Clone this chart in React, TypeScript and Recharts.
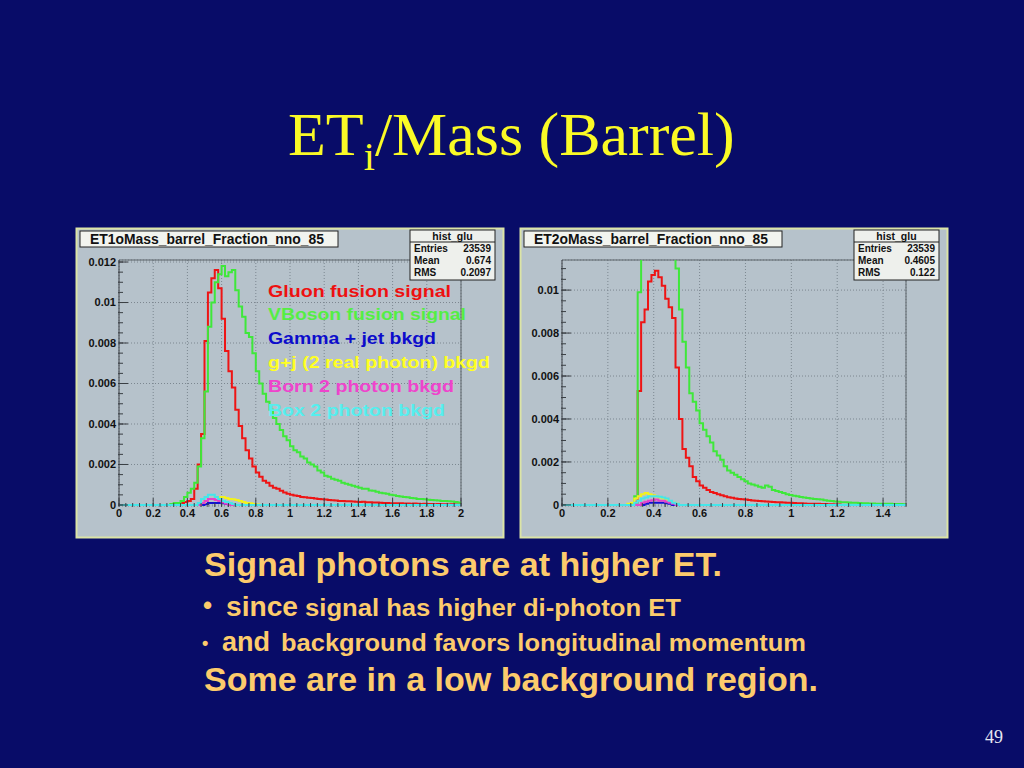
import React from "react";
import { LineChart, Line, XAxis, YAxis, CartesianGrid, ReferenceLine } from "recharts";

const BINS = 100;
const leftBinWidth = 0.02;
const rightBinWidth = 0.015;

const seriesKeys = ["glu", "vbf", "gjet", "gj2", "born", "box"];
const seriesColors = ["#ee1414", "#3ee83a", "#1212d2", "#f2f21c", "#e444cc", "#44e6ea"];
const legendLabels = [
  "Gluon fusion signal",
  "VBoson fusion signal",
  "Gamma + jet bkgd",
  "g+j (2 real photon) bkgd",
  "Born 2 photon bkgd",
  "Box 2 photon bkgd",
];
const legendColors = ["#ee1010", "#55ee44", "#0c0ccc", "#ffff22", "#ee44cc", "#55eeee"];

const leftXTicks = [0, 0.2, 0.4, 0.6, 0.8, 1, 1.2, 1.4, 1.6, 1.8, 2];
const leftYTicks = [0, 0.002, 0.004, 0.006, 0.008, 0.01, 0.012];
const rightXTicks = [0, 0.2, 0.4, 0.6, 0.8, 1, 1.2, 1.4];
const rightYTicks = [0, 0.002, 0.004, 0.006, 0.008, 0.01];

// ET1/Mass, bins of 0.02, each list starts at the bin given with it
const leftGluStart = 17;
const leftGlu = [
  0.00005, 0.0001, 0.00015, 0.0002, 0.0003, 0.0008, 0.002, 0.0035, 0.0081, 0.0105,
  0.0112, 0.0116, 0.0107, 0.0092, 0.0076, 0.0066, 0.0058, 0.0047, 0.0039, 0.0033,
  0.0027, 0.0023, 0.0019, 0.0016, 0.0014, 0.0012, 0.0011, 0.00095, 0.00085, 0.0008,
  0.0007, 0.00062, 0.00056, 0.0005, 0.00047, 0.00044, 0.0004, 0.00038, 0.00036, 0.00034,
  0.00032, 0.0003, 0.00028, 0.00027, 0.00025, 0.00024, 0.00022, 0.0002, 0.0002, 0.00019,
  0.00018, 0.00017, 0.00016, 0.00015, 0.00016, 0.00014, 0.00013, 0.00012, 0.00012, 0.00011,
  0.0001, 0.0001, 0.00009, 0.00009, 0.00008, 0.00008, 0.00007, 0.00007, 0.00006, 0.00007,
  0.00006, 0.00005, 0.00006, 0.00005, 0.00005, 0.00004, 0.00005, 0.00004, 0.00004, 0.00003,
  0.00004, 0.00003, 0.00003,
];
const leftVbfStart = 15;
const leftVbf = [
  0.00005, 0.0001, 0.0001, 0.0002, 0.0004, 0.0006, 0.0008, 0.0011, 0.0019, 0.0033,
  0.0056, 0.0088, 0.01, 0.011, 0.0114, 0.0118, 0.0113, 0.0115, 0.0116, 0.0106,
  0.0098, 0.0093, 0.0085, 0.0083, 0.0075, 0.0066, 0.006, 0.0055, 0.0051, 0.0047,
  0.0043, 0.004, 0.0037, 0.0034, 0.0032, 0.0029, 0.0027, 0.0026, 0.0024, 0.0023,
  0.0021, 0.002, 0.0019, 0.0017, 0.0016, 0.00145, 0.0014, 0.0013, 0.00125, 0.0012,
  0.0011, 0.00105, 0.001, 0.00095, 0.0009, 0.00085, 0.0008, 0.0008, 0.00072, 0.0007,
  0.00065, 0.0006, 0.00058, 0.00055, 0.0005, 0.00048, 0.00045, 0.00042, 0.0004, 0.00038,
  0.00035, 0.00033, 0.0003, 0.0003, 0.00028, 0.00026, 0.00025, 0.00023, 0.00022, 0.0002,
  0.0002, 0.00018, 0.00017, 0.00015, 0.00012,
];
const leftGjetStart = 25;
const leftGjet = [0.00005, 0.0001, 0.0001, 0.0001, 0.0001, 0.00008, 0.00005, 0.00003];
const leftGj2Start = 24;
const leftGj2 = [
  0.0001, 0.0002, 0.0003, 0.0003, 0.0004, 0.0004, 0.0004, 0.00035, 0.0003, 0.00028,
  0.00025, 0.0002, 0.00015, 0.0001, 0.00008, 0.00005, 0.00003,
];
const leftBornStart = 24;
const leftBorn = [0.0001, 0.0002, 0.0003, 0.0003, 0.00025, 0.0002, 0.00012, 0.00006];
const leftBoxStart = 23;
const leftBox = [0.0001, 0.0003, 0.0004, 0.0005, 0.0005, 0.0004, 0.0003, 0.0002, 0.00015, 0.0001, 0.00005];

// ET2/Mass, bins of 0.015
const rightGluStart = 21;
const rightGlu = [
  0.0001, 0.0053, 0.0085, 0.0091, 0.0104, 0.0107, 0.0109, 0.0106, 0.0102, 0.0096,
  0.0092, 0.0087, 0.0064, 0.004, 0.0026, 0.0022, 0.0018, 0.0013, 0.0011, 0.0009,
  0.0008, 0.0007, 0.0006, 0.00055, 0.0005, 0.00045, 0.0004, 0.00036, 0.00033, 0.0003,
  0.00028, 0.00026, 0.00025, 0.00023, 0.00021, 0.0002, 0.00018, 0.00017, 0.00016, 0.00015,
  0.00014, 0.00013, 0.00012, 0.00011, 0.0001, 0.0001, 0.00009, 0.00008, 0.00008, 0.00007,
  0.00006, 0.00006, 0.00005, 0.00005, 0.00004, 0.00004, 0.00003, 0.00003, 0.00002, 0.00002,
];
const rightVbfStart = 20;
const rightVbf = [
  0.00005, 0.0004, 0.0099, 0.0135, 0.016, 0.018, 0.019, 0.0195, 0.019, 0.018,
  0.016, 0.014, 0.0125, 0.011, 0.0091, 0.0076, 0.0064, 0.0052, 0.0048, 0.0044,
  0.0038, 0.0035, 0.0032, 0.0029, 0.0025, 0.0023, 0.0021, 0.0018, 0.0016, 0.0015,
  0.0014, 0.0013, 0.0012, 0.0011, 0.001, 0.00095, 0.0009, 0.00085, 0.0008, 0.0009,
  0.00085, 0.0007, 0.00065, 0.0006, 0.00055, 0.0005, 0.00046, 0.00043, 0.0004, 0.00037,
  0.00035, 0.00032, 0.0003, 0.00028, 0.00026, 0.00025, 0.00022, 0.0002, 0.00018, 0.00016,
  0.00015, 0.00013, 0.00012, 0.00011, 0.0001, 0.0001, 0.00009, 0.00008, 0.00008, 0.00007,
  0.00007, 0.00006, 0.00006, 0.00005, 0.00005, 0.00005, 0.00004, 0.00004, 0.00004, 0.00003,
];
const rightGjetStart = 24;
const rightGjet = [0.00005, 0.0001, 0.0001, 0.0001, 0.0001, 0.0001, 0.00008, 0.00005];
const rightGj2Start = 19;
const rightGj2 = [
  0.00005, 0.0001, 0.0003, 0.0004, 0.0005, 0.00055, 0.0005, 0.00045, 0.0004, 0.00035,
  0.0003, 0.00025, 0.00015, 0.0001, 0.00005,
];
const rightBornStart = 23;
const rightBorn = [0.0001, 0.00015, 0.0002, 0.00022, 0.00025, 0.0002, 0.0002, 0.00015, 0.0001, 0.00005];
const rightBoxStart = 21;
const rightBox = [
  0.0001, 0.0002, 0.0003, 0.00035, 0.0004, 0.0004, 0.0004, 0.00038, 0.00035, 0.0003,
  0.0002, 0.0001, 0.00005,
];

const SANS = "'Liberation Sans', Arial, Helvetica, sans-serif";
const SERIF = "'Liberation Serif', 'Times New Roman', serif";
const SLIDE_BG = "#080c68";
const PAD_BG = "#b6c2cb";
const TEXT_ORANGE = "#fccb6c";

function place(start: number, values: number[]) {
  const out = new Array(BINS).fill(0);
  values.forEach((v, i) => {
    if (start + i < BINS) out[start + i] = v;
  });
  return out;
}

function buildRows(binWidth: number, series: number[][]) {
  const rows: Record<string, number>[] = [];
  for (let k = 0; k <= BINS; k++) {
    const row: Record<string, number> = { x: +(k * binWidth).toFixed(4) };
    seriesKeys.forEach((key, i) => {
      row[key] = series[i][Math.min(k, BINS - 1)];
    });
    rows.push(row);
  }
  return rows;
}

const leftRows = buildRows(leftBinWidth, [
  place(leftGluStart, leftGlu),
  place(leftVbfStart, leftVbf),
  place(leftGjetStart, leftGjet),
  place(leftGj2Start, leftGj2),
  place(leftBornStart, leftBorn),
  place(leftBoxStart, leftBox),
]);

const rightRows = buildRows(rightBinWidth, [
  place(rightGluStart, rightGlu),
  place(rightVbfStart, rightVbf),
  place(rightGjetStart, rightGjet),
  place(rightGj2Start, rightGj2),
  place(rightBornStart, rightBorn),
  place(rightBoxStart, rightBox),
]);

function minorTicks(max: number, step: number) {
  const out: number[] = [];
  for (let v = 0; v <= max + 1e-9; v += step) out.push(+v.toFixed(5));
  return out;
}

const noLabel = () => <g />;

type PanelProps = {
  rows: Record<string, number>[];
  xMax: number;
  yMin: number;
  yMax: number;
  xTicks: number[];
  yTicks: number[];
  xMinorStep: number;
  yMinorStep: number;
  margin: { top: number; right: number; bottom: number; left: number };
};

function HistPanel({ rows, xMax, yMin, yMax, xTicks, yTicks, xMinorStep, yMinorStep, margin }: PanelProps) {
  const labelStyle = { fontSize: 11, fontWeight: 700, fill: "#111", fontFamily: SANS };
  return (
    <LineChart width={428} height={310} data={rows} margin={margin}>
      <CartesianGrid stroke="#7c8790" strokeDasharray="1 2" />
      <XAxis
        dataKey="x"
        type="number"
        domain={[0, xMax]}
        ticks={xTicks}
        interval={0}
        allowDataOverflow
        height={1}
        tickSize={-8}
        tickMargin={11}
        tick={labelStyle}
        axisLine={false}
        stroke="#3a3f44"
      />
      <XAxis
        xAxisId="minor"
        dataKey="x"
        type="number"
        domain={[0, xMax]}
        ticks={minorTicks(xMax, xMinorStep)}
        interval={0}
        allowDataOverflow
        height={1}
        tickSize={-4}
        tick={noLabel}
        axisLine={false}
        stroke="#3a3f44"
      />
      <YAxis
        type="number"
        domain={[yMin, yMax]}
        ticks={yTicks}
        interval={0}
        allowDataOverflow
        width={1}
        tickSize={-9}
        tickMargin={12}
        tick={labelStyle}
        stroke="#3a3f44"
      />
      <YAxis
        yAxisId="minor"
        type="number"
        domain={[yMin, yMax]}
        ticks={minorTicks(yMax, yMinorStep)}
        interval={0}
        allowDataOverflow
        width={1}
        tickSize={-5}
        tick={noLabel}
        axisLine={false}
        stroke="#3a3f44"
      />
      <ReferenceLine y={yMax} stroke="#5c646b" ifOverflow="visible" />
      <ReferenceLine x={xMax} stroke="#5c646b" ifOverflow="visible" />
      {seriesKeys.map((key, i) => (
        <Line
          key={key}
          type="stepAfter"
          dataKey={key}
          stroke={seriesColors[i]}
          strokeWidth={2}
          dot={false}
          activeDot={false}
          isAnimationActive={false}
        />
      ))}
    </LineChart>
  );
}

function StatsBox({ x, entries, mean, rms }: { x: number; entries: string; mean: string; rms: string }) {
  const rows = [
    ["Entries", entries],
    ["Mean", mean],
    ["RMS", rms],
  ];
  return (
    <g fontFamily={SANS} fontWeight={700} fontSize={10} fill="#111">
      <rect x={x} y={230} width={85} height={50} fill="#eef0ec" stroke="#222" />
      <line x1={x} x2={x + 85} y1={242} y2={242} stroke="#222" />
      <text x={x + 42.5} y={240} textAnchor="middle" fontSize={10.5}>hist_glu</text>
      {rows.map((r, i) => (
        <g key={r[0]}>
          <text x={x + 4} y={252 + i * 12}>{r[0]}</text>
          <text x={x + 81} y={252 + i * 12} textAnchor="end">{r[1]}</text>
        </g>
      ))}
    </g>
  );
}

function TitleBox({ x, label }: { x: number; label: string }) {
  return (
    <g>
      <rect x={x} y={231} width={258} height={16} fill="#f2f4ef" stroke="#222" />
      <text
        x={x + 10}
        y={244}
        fontFamily={SANS}
        fontWeight={700}
        fontSize={14}
        fill="#111"
        textLength={234}
        lengthAdjust="spacingAndGlyphs"
      >
        {label}
      </text>
    </g>
  );
}

const legendWidths = [183, 198, 168, 222, 186, 177];

export default function App() {
  return (
    <div
      style={{
        position: "fixed",
        left: 0,
        top: 0,
        width: 1024,
        height: 768,
        background: SLIDE_BG,
        overflow: "hidden",
      }}
    >
      <div style={{ position: "absolute", left: 76, top: 228, width: 428, height: 310, background: PAD_BG }}>
        <HistPanel
          rows={leftRows}
          xMax={2}
          yMin={-0.00005}
          yMax={0.0121}
          xTicks={leftXTicks}
          yTicks={leftYTicks}
          xMinorStep={0.04}
          yMinorStep={0.0005}
          margin={{ top: 32, right: 43, bottom: 30, left: 41 }}
        />
      </div>
      <div style={{ position: "absolute", left: 520, top: 228, width: 428, height: 310, background: PAD_BG }}>
        <HistPanel
          rows={rightRows}
          xMax={1.5}
          yMin={-0.00005}
          yMax={0.0114}
          xTicks={rightXTicks}
          yTicks={rightYTicks}
          xMinorStep={0.05}
          yMinorStep={0.0005}
          margin={{ top: 32, right: 42, bottom: 30, left: 40 }}
        />
      </div>

      <svg width={1024} height={768} style={{ position: "absolute", left: 0, top: 0, pointerEvents: "none" }}>
        <text x={288} y={155} fontFamily={SERIF} fontSize={62} fill="#fafa26">
          ET
          <tspan fontSize={40} dy={15}>i</tspan>
          <tspan dy={-15}>/Mass (Barrel)</tspan>
        </text>

        <rect x={76.5} y={228.5} width={427} height={309} fill="none" stroke="#dce4a6" strokeWidth={2} />
        <rect x={520.5} y={228.5} width={427} height={309} fill="none" stroke="#dce4a6" strokeWidth={2} />

        <TitleBox x={80} label="ET1oMass_barrel_Fraction_nno_85" />
        <TitleBox x={524} label="ET2oMass_barrel_Fraction_nno_85" />
        <StatsBox x={410} entries="23539" mean="0.674" rms="0.2097" />
        <StatsBox x={854} entries="23539" mean="0.4605" rms="0.122" />

        <g fontFamily={SANS} fontWeight={700} fontSize={17}>
          {legendLabels.map((label, i) => (
            <text
              key={label}
              x={268}
              y={296.5 + i * 23.8}
              fill={legendColors[i]}
              textLength={legendWidths[i]}
              lengthAdjust="spacingAndGlyphs"
            >
              {label}
            </text>
          ))}
        </g>

        <g fontFamily={SANS} fontWeight={700} fill={TEXT_ORANGE}>
          <text x={204} y={576} fontSize={33} textLength={518} lengthAdjust="spacingAndGlyphs">
            Signal photons are at higher ET.
          </text>
          <text x={203} y={614} fontSize={26}>•</text>
          <text x={226} y={616} fontSize={28} textLength={72} lengthAdjust="spacingAndGlyphs">since</text>
          <text x={305} y={616} fontSize={24} textLength={376} lengthAdjust="spacingAndGlyphs">
            signal has higher di-photon ET
          </text>
          <text x={202} y={649} fontSize={18}>•</text>
          <text x={222} y={651} fontSize={27} textLength={48} lengthAdjust="spacingAndGlyphs">and</text>
          <text x={281} y={651} fontSize={24} textLength={525} lengthAdjust="spacingAndGlyphs">
            background favors longitudinal momentum
          </text>
          <text x={204} y={691} fontSize={33} textLength={614} lengthAdjust="spacingAndGlyphs">
            Some are in a low background region.
          </text>
        </g>

        <text x={985} y={743} fontFamily={SERIF} fontSize={18} fill="#e6e8f2">49</text>
      </svg>
    </div>
  );
}
